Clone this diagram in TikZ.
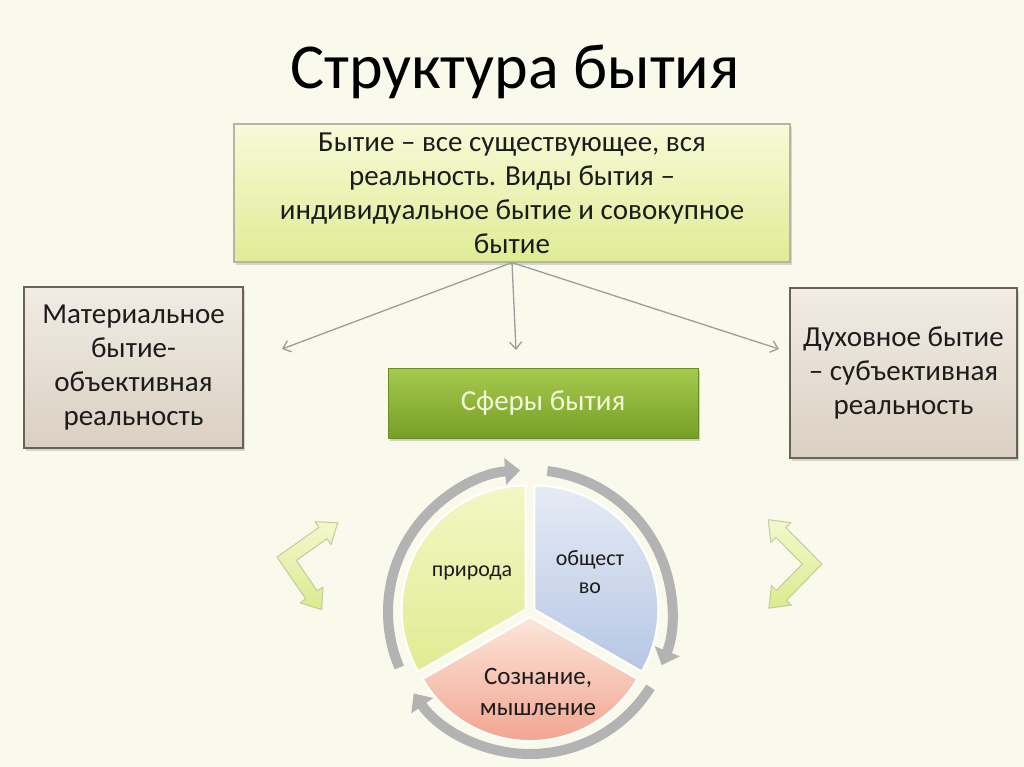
\documentclass[tikz,border=0pt]{standalone}
\usepackage{fontspec}
\setmainfont{Carlito}
\usetikzlibrary{arrows.meta,shadows,calc}
\definecolor{bg}{HTML}{FAFAEC}
\definecolor{txt}{HTML}{1C1C1C}
\definecolor{mainTop}{HTML}{F7FAD8}
\definecolor{mainBot}{HTML}{DFEC94}
\definecolor{mainEdge}{HTML}{B4B6A2}
\definecolor{sideTop}{HTML}{F1ECE4}
\definecolor{sideBot}{HTML}{DAD0C2}
\definecolor{sideEdge}{HTML}{6A6256}
\definecolor{grTop}{HTML}{A6CA4E}
\definecolor{grBot}{HTML}{779E26}
\definecolor{grTxt}{HTML}{F3F8DA}
\definecolor{conn}{HTML}{9C9C9C}
\definecolor{ringC}{HTML}{B3B3B3}
\definecolor{natTop}{HTML}{F3F7C4}
\definecolor{natBot}{HTML}{DFEC92}
\definecolor{socTop}{HTML}{E6EBF5}
\definecolor{socBot}{HTML}{B6C7E4}
\definecolor{conTop}{HTML}{FCE6DA}
\definecolor{conBot}{HTML}{F09C86}
\definecolor{zzTop}{HTML}{F3F8CC}
\definecolor{zzBot}{HTML}{DCEA8E}
\definecolor{zzEdge}{HTML}{C2CC9C}
\tikzset{
  mainbox/.style={draw=mainEdge, line width=1.2pt, top color=mainTop, bottom color=mainBot,
    minimum width=556pt, minimum height=138pt, inner sep=0pt, align=center, text=txt,
    font=\fontsize{29}{34}\selectfont,
    drop shadow={shadow xshift=2pt, shadow yshift=-3pt, opacity=0.3}},
  sidebox/.style={draw=sideEdge, line width=1.5pt, top color=sideTop, bottom color=sideBot,
    inner sep=0pt, align=center, text=txt, font=\fontsize{29}{34}\selectfont,
    drop shadow={shadow xshift=2pt, shadow yshift=-3pt, opacity=0.3}},
  greenbox/.style={draw=grBot!90!black, line width=0.6pt, top color=grTop, bottom color=grBot,
    minimum width=310pt, minimum height=70pt, inner sep=0pt, text=grTxt,
    font=\fontsize{29}{34}\selectfont,
    drop shadow={shadow xshift=2pt, shadow yshift=-3pt, opacity=0.35}},
  connector/.style={draw=conn, line width=1.3pt, -{Straight Barb[length=7pt,width=12pt]}},
  ring/.style={draw=ringC, line width=10pt, -{Triangle[length=15pt,width=26pt]}},
  seg/.style={draw=white, line width=2pt},
  segtxt/.style={align=center, text=txt, inner sep=0pt},
  zzshape/.style={draw=zzEdge, line width=1pt, top color=zzTop, bottom color=zzBot, line join=round},
  zz/.pic={\path[zzshape] (0,0) -- (42.0,-29.6) -- (37.9,-35.3) -- (60.7,-34.3) -- (54.1,-12.5)
      -- (50.0,-18.2) -- (19.4,3.4) -- (40.3,33.9) -- (46.0,30.0) -- (44.7,52.7)
      -- (23.0,45.8) -- (28.7,41.9) -- cycle;}
}
\begin{document}
\begin{tikzpicture}[x=1pt,y=-1pt]
\fill[bg] (0,0) rectangle (1024,767);
\useasboundingbox (0,0) rectangle (1024,767);

% title
\node[text=black, font=\fontsize{64}{70}\selectfont] (title) at (515,72) {Структура бытия};

% boxes
\node[mainbox] (main) at (512,193) {Бытие – все существующее, вся\\реальность. Виды бытия –\\индивидуальное бытие и совокупное\\бытие};
\node[sidebox, minimum width=219pt, minimum height=161pt] (mat) at (133.5,367.5) {Материальное\\бытие-\\объективная\\реальность};
\node[sidebox, minimum width=227pt, minimum height=170pt] (duh) at (903.5,373) {Духовное бытие\\– субъективная\\реальность};
\node[greenbox] (sph) at (543,403) {Сферы бытия};

% connectors
\coordinate (eL) at (282,349);
\coordinate (eM) at (516,350);
\coordinate (eR) at (779,349);
\draw[connector] (main.south) -- (eL);
\draw[connector] (main.south) -- (eM);
\draw[connector] (main.south) -- (eR);

% circular arrows
\coordinate (C) at (530,612);
\draw[ring] ($(C)+(-203:142)$) arc[start angle=-203, end angle=-94, radius=142];
\draw[ring] ($(C)+(-83:142)$) arc[start angle=-83, end angle=22, radius=142];
\draw[ring] ($(C)+(32:142)$) arc[start angle=32, end angle=145, radius=142];

% pie segments
\shade[seg, top color=natTop, bottom color=natBot] ($(C)+(-150:5)$) -- ++(-90:124) arc[start angle=-90, end angle=-210, radius=124] -- cycle;
\shade[seg, top color=socTop, bottom color=socBot] ($(C)+(-30:5)$) -- ++(-90:124) arc[start angle=-90, end angle=30, radius=124] -- cycle;
\shade[seg, top color=conTop, bottom color=conBot] ($(C)+(90:5)$) -- ++(-210:124) arc[start angle=-210, end angle=-330, radius=124] -- cycle;

\node[segtxt, font=\fontsize{22}{28}\selectfont] (nat) at (472,573) {природа};
\node[segtxt, font=\fontsize{22}{28}\selectfont] (soc) at (590,572) {общест\\во};
\node[segtxt, font=\fontsize{25}{31}\selectfont] (con) at (538,692) {Сознание,\\мышление};

% zigzag double arrows
\pic at (277,557) {zz};
\pic[xscale=-1, rotate=10] at (822,564) {zz};
\end{tikzpicture}
\end{document}
